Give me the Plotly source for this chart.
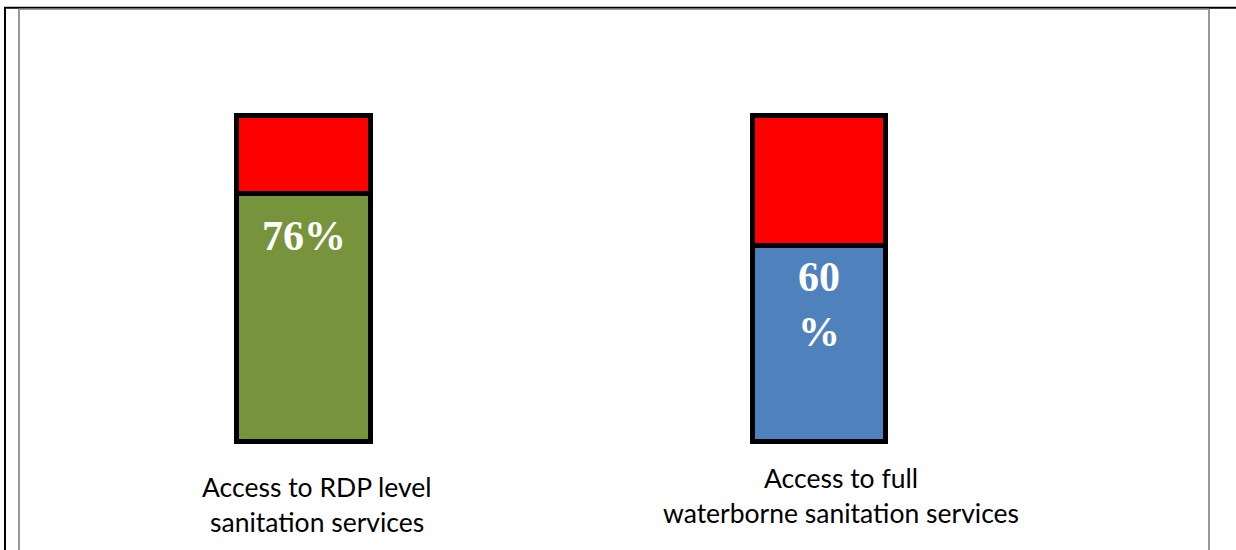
import plotly.graph_objects as go

# ---- data ----
categories = ["Access to RDP level<br>sanitation services",
              "Access to full<br>waterborne sanitation services"]
access_values = [76, 60]           # % with access
remaining_values = [24, 40]        # % without access
value_labels = ["76%", "60<br>%"]
access_colors = ["#77933C", "#4F81BD"]
gap_color = "#FF0000"

W, H = 1236, 550
fig = go.Figure()

x_idx = list(range(len(categories)))
fig.add_trace(go.Bar(
    x=x_idx, y=access_values, width=[0.259] * len(x_idx),
    marker=dict(color=access_colors, line=dict(color="black", width=5)),
    hoverinfo="skip", showlegend=False))
fig.add_trace(go.Bar(
    x=x_idx, y=remaining_values, width=[0.259] * len(x_idx),
    marker=dict(color=gap_color, line=dict(color="black", width=5)),
    hoverinfo="skip", showlegend=False))

annotations = []
# value labels inside bars
label_shift = [-42, -59]
for i, (v, t) in enumerate(zip(access_values, value_labels)):
    annotations.append(dict(
        x=i, y=v, xref="x", yref="y", text="<b>" + t + "</b>", showarrow=False,
        yanchor="middle", xanchor="center", yshift=label_shift[i],
        font=dict(family="Liberation Serif, Times New Roman, serif", size=42,
                  color="white")))

# category labels below bars
cat_xshift = [13, 22]
cat_first_line = [-45.5, -36.5]
for i, c in enumerate(categories):
    for j, line in enumerate(c.split("<br>")):
        annotations.append(dict(
            x=i, y=0, xref="x", yref="y", text=line, showarrow=False,
            xanchor="center", yanchor="middle", xshift=cat_xshift[i],
            yshift=cat_first_line[i] - 35 * j,
            font=dict(family="Lato", size=26.5, color="black")))

def hline(x0, x1, y, color, w):
    return dict(type="line", xref="paper", yref="paper", x0=x0 / W, x1=x1 / W,
                y0=1 - y / H, y1=1 - y / H, line=dict(color=color, width=w))

def vline(x, y0, y1, color, w):
    return dict(type="line", xref="paper", yref="paper", x0=x / W, x1=x / W,
                y0=1 - y0 / H, y1=1 - y1 / H, line=dict(color=color, width=w))

shapes = [
    hline(4, W, 7.7, "black", 2),
    vline(5, 7, H + 2, "black", 2),
    hline(19, 1209, 9.3, "#999999", 1.5),
    vline(19, 9, H + 2, "#999999", 2),
    vline(1209, 9, H + 2, "#999999", 2),
]

# axis mapping: bar centres at 303.5 px and 819 px, base at 441.5 px, 100% at 115.5 px
px_per_cat = 819 - 303.5
x0 = -303.5 / px_per_cat
x1 = x0 + W / px_per_cat
px_per_pct = (441.5 - 115.5) / 100
y_lo = -(H - 441.5) / px_per_pct
y_hi = 441.5 / px_per_pct

fig.update_layout(
    width=W, height=H, barmode="stack",
    margin=dict(l=0, r=0, t=0, b=0),
    paper_bgcolor="white", plot_bgcolor="white",
    xaxis=dict(range=[x0, x1], visible=False, domain=[0, 1]),
    yaxis=dict(range=[y_lo, y_hi], visible=False, domain=[0, 1]),
    annotations=annotations, shapes=shapes,
)

fig.write_html("out.html", config={"displayModeBar": False})
